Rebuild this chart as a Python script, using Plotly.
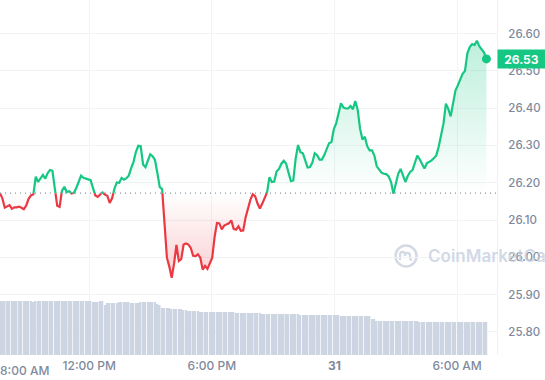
import numpy as np
import pandas as pd
import plotly.graph_objects as go

# ---------------- data ----------------
times = pd.date_range("2024-10-30 07:38", periods=205, freq="7min")

price = [
    26.172, 26.158, 26.133, 26.136, 26.140, 26.130, 26.134, 26.134, 26.136, 26.133,
    26.129, 26.139, 26.157, 26.166, 26.169, 26.216, 26.202, 26.211, 26.221, 26.211,
    26.226, 26.234, 26.232, 26.184, 26.138, 26.135, 26.179, 26.189, 26.175, 26.177,
    26.171, 26.173, 26.186, 26.202, 26.219, 26.213, 26.212, 26.209, 26.207, 26.183,
    26.166, 26.162, 26.170, 26.174, 26.168, 26.165, 26.146, 26.158, 26.184, 26.201,
    26.200, 26.213, 26.208, 26.212, 26.219, 26.239, 26.256, 26.283, 26.299, 26.298,
    26.249, 26.242, 26.258, 26.276, 26.271, 26.261, 26.226, 26.188, 26.183, 26.079,
    25.999, 25.975, 25.945, 25.983, 26.033, 25.990, 25.995, 26.034, 26.037, 26.034,
    26.025, 26.004, 26.003, 26.008, 25.999, 25.967, 25.977, 25.969, 25.987, 25.999,
    26.055, 26.092, 26.091, 26.075, 26.085, 26.088, 26.091, 26.099, 26.076, 26.074,
    26.083, 26.071, 26.072, 26.107, 26.132, 26.154, 26.169, 26.164, 26.144, 26.131,
    26.144, 26.159, 26.174, 26.215, 26.202, 26.203, 26.230, 26.237, 26.251, 26.259,
    26.251, 26.227, 26.204, 26.206, 26.265, 26.301, 26.282, 26.279, 26.258, 26.241,
    26.242, 26.254, 26.279, 26.274, 26.262, 26.262, 26.274, 26.292, 26.306, 26.309,
    26.344, 26.360, 26.388, 26.413, 26.402, 26.399, 26.399, 26.406, 26.397, 26.419,
    26.396, 26.345, 26.316, 26.323, 26.298, 26.287, 26.287, 26.273, 26.244, 26.236,
    26.227, 26.224, 26.223, 26.217, 26.202, 26.171, 26.200, 26.224, 26.237, 26.217,
    26.202, 26.218, 26.229, 26.234, 26.255, 26.273, 26.263, 26.249, 26.238, 26.252,
    26.255, 26.260, 26.266, 26.274, 26.297, 26.329, 26.359, 26.412, 26.398, 26.378,
    26.418, 26.447, 26.461, 26.478, 26.492, 26.500, 26.547, 26.564, 26.572, 26.569,
    26.581, 26.566, 26.558, 26.549, 26.532,
]

volume_m = [
    10.8, 10.8, 10.8, 10.8, 10.8, 10.8, 10.8, 10.8, 10.8, 10.8,
    10.8, 10.8, 10.8, 10.8, 10.6, 10.8, 10.8, 10.8, 10.8, 10.8,
    10.8, 10.8, 10.8, 10.8, 10.8, 10.8, 10.8, 10.8, 10.8, 10.8,
    10.8, 10.8, 10.8, 10.8, 10.8, 10.8, 10.8, 10.8, 10.8, 10.6,
    10.6, 10.6, 10.8, 10.8, 10.0, 10.4, 10.4, 10.4, 10.4, 10.4,
    10.6, 10.6, 10.6, 10.6, 10.6, 10.4, 10.4, 10.4, 10.4, 10.6,
    10.6, 10.6, 10.6, 10.6, 10.6, 10.6, 10.2, 10.0, 9.4, 9.4,
    9.4, 9.4, 9.2, 9.2, 9.2, 9.2, 9.2, 9.0, 9.0, 8.8,
    8.8, 8.8, 8.8, 8.8, 8.6, 8.6, 8.6, 8.6, 8.6, 8.6,
    8.6, 8.6, 8.6, 8.6, 8.6, 8.6, 8.6, 8.6, 8.6, 8.4,
    8.4, 8.4, 8.4, 8.4, 8.4, 8.4, 8.4, 8.4, 8.4, 8.4,
    8.2, 8.2, 8.2, 8.2, 8.2, 8.2, 8.2, 8.2, 8.2, 8.2,
    8.2, 8.2, 8.2, 8.2, 8.2, 8.2, 8.0, 8.0, 8.0, 8.0,
    8.0, 8.0, 8.0, 8.0, 8.0, 8.0, 8.0, 8.0, 8.0, 8.0,
    8.0, 8.0, 8.0, 7.8, 7.8, 7.8, 7.8, 7.8, 7.8, 7.8,
    7.8, 7.8, 7.8, 7.8, 7.8, 7.8, 7.2, 7.2, 6.8, 6.8,
    6.8, 6.8, 6.8, 6.8, 6.8, 6.8, 6.8, 6.8, 6.8, 6.8,
    6.8, 6.8, 6.8, 6.8, 6.8, 6.8, 6.6, 6.6, 6.6, 6.6,
    6.6, 6.6, 6.6, 6.6, 6.6, 6.6, 6.6, 6.6, 6.6, 6.6,
    6.6, 6.6, 6.6, 6.6, 6.6, 6.6, 6.6, 6.6, 6.6, 6.6,
    6.6, 6.6, 6.6, 6.6, 6.6,
]

x_tick_vals = ["2024-10-30 12:00", "2024-10-30 18:00", "2024-10-31 00:00", "2024-10-31 06:00"]
x_tick_text = ["12:00 PM", "6:00 PM", "<b>31</b>", "6:00 AM"]
first_tick_time = "2024-10-30 08:00"
first_tick_text = "8:00 AM"
y_tick_vals = [25.80, 25.90, 26.00, 26.10, 26.20, 26.30, 26.40, 26.50, 26.60]

# ---------------- styling ----------------
GREEN = "#16c784"
RED = "#ea3943"
LABEL = "#808a9d"
GRID = "#f2f3f5"
FONT = "Inter"

p = np.array(price, dtype=float)
base = p[0]

# split the line at the baseline (insert the crossing points)
tn = times.asi8.astype(float)
xs, ys = [], []
for i in range(len(p)):
    xs.append(tn[i]); ys.append(p[i])
    if i < len(p) - 1:
        a, b = p[i] - base, p[i + 1] - base
        if a * b < 0:
            f = a / (a - b)
            xs.append(tn[i] + f * (tn[i + 1] - tn[i])); ys.append(base)
xs = pd.to_datetime(np.array(xs).astype("int64"))
ys = np.array(ys)

up = np.maximum(ys, base)
down = np.minimum(ys, base)
green_line = np.where(ys >= base, ys, np.nan)
red_line = np.where(ys <= base, ys, np.nan)
base_arr = np.full(len(ys), base)

fig = go.Figure()

fig.add_trace(go.Bar(x=times, y=volume_m, yaxis="y2", marker=dict(color="#cdd5e3", line=dict(width=0)),
                     hoverinfo="skip", showlegend=False))

fig.add_trace(go.Scatter(x=xs, y=base_arr, mode="lines", line=dict(width=0, color="rgba(0,0,0,0)"),
                         hoverinfo="skip", showlegend=False))
fig.add_trace(go.Scatter(x=xs, y=up, mode="lines", line=dict(width=0, color="rgba(0,0,0,0)"),
                         fill="tonexty",
                         fillgradient=dict(type="vertical",
                                           colorscale=[[0, "rgba(22,199,132,0.0)"], [1, "rgba(22,199,132,0.28)"]],
                                           start=base, stop=float(p.max())),
                         hoverinfo="skip", showlegend=False))
fig.add_trace(go.Scatter(x=xs, y=base_arr, mode="lines", line=dict(width=0, color="rgba(0,0,0,0)"),
                         hoverinfo="skip", showlegend=False))
fig.add_trace(go.Scatter(x=xs, y=down, mode="lines", line=dict(width=0, color="rgba(0,0,0,0)"),
                         fill="tonexty",
                         fillgradient=dict(type="vertical",
                                           colorscale=[[0, "rgba(234,57,67,0.24)"], [1, "rgba(234,57,67,0.0)"]],
                                           start=float(p.min()), stop=base),
                         hoverinfo="skip", showlegend=False))

fig.add_trace(go.Scatter(x=xs, y=red_line, mode="lines", line=dict(color=RED, width=2.2),
                         connectgaps=False, hoverinfo="skip", showlegend=False))
fig.add_trace(go.Scatter(x=xs, y=green_line, mode="lines", line=dict(color=GREEN, width=2.2),
                         connectgaps=False, hoverinfo="skip", showlegend=False))
fig.add_trace(go.Scatter(x=[times[-1]], y=[price[-1]], mode="markers",
                         marker=dict(color=GREEN, size=9), hoverinfo="skip", showlegend=False))

# dotted baseline
fig.add_shape(type="line", xref="paper", x0=0, x1=1, yref="y", y0=base, y1=base,
              line=dict(color="#8f96a3", width=1.2, dash="1px,4px"), layer="above")

# watermark
wm_color = "rgba(196,205,222,0.75)"
wx, wy = 0.817, 0.279
fig.add_shape(type="circle", xref="paper", yref="paper", xsizemode="pixel", ysizemode="pixel",
              xanchor=wx, yanchor=wy, x0=-10.5, x1=10.5, y0=-10.5, y1=10.5,
              line=dict(color=wm_color, width=2.5), layer="below")
fig.add_shape(type="path", xref="paper", yref="paper", xsizemode="pixel", ysizemode="pixel",
              xanchor=wx, yanchor=wy,
              path="M -6,-4 L -6,1 Q -6,4 -3.5,4 Q -1,4 -1,1 L -1,0 Q -1,3 1.5,3 Q 4,3 4,0 L 4,-2 Q 4,-4 6,-4",
              line=dict(color=wm_color, width=2.2), layer="below")
fig.add_annotation(text="CoinMarketCap", xref="paper", yref="paper", x=0.858, y=wy,
                   xanchor="left", yanchor="middle", showarrow=False,
                   font=dict(family=FONT, size=17, color=wm_color, weight=600))

# first time label (kept inside the chart like the original)
fig.add_annotation(text=first_tick_text, xref="x", yref="paper", x=first_tick_time, y=0,
                   xanchor="center", yanchor="top", xshift=17, yshift=-6, showarrow=False,
                   font=dict(family=FONT, size=12, color=LABEL, weight=500))

# last price badge
fig.add_annotation(text=f"<b>{price[-1]:.2f}</b>", xref="paper", yref="y", x=1, y=price[-1],
                   xanchor="left", yanchor="middle", showarrow=False, bgcolor=GREEN,
                   width=47, height=18, borderpad=0,
                   font=dict(family=FONT, size=12, color="white"))

fig.update_layout(
    width=545, height=380,
    margin=dict(l=0, r=48, t=0, b=25),
    paper_bgcolor="white", plot_bgcolor="white",
    bargap=0.35,
    font=dict(family=FONT, color=LABEL),
    xaxis=dict(type="date", range=["2024-10-30 07:38", "2024-10-31 07:57"],
               tickvals=x_tick_vals, ticktext=x_tick_text, ticks="",
               showgrid=True, gridcolor=GRID, gridwidth=1, zeroline=False, showline=False,
               tickfont=dict(family=FONT, size=12, color=LABEL, weight=500), ticklabelstandoff=2),
    yaxis=dict(side="right", range=[25.738, 26.690], tickvals=y_tick_vals, tickformat=".2f",
               ticks="", showgrid=True, gridcolor=GRID, gridwidth=1, zeroline=False,
               showline=True, linecolor="#eef0f3", linewidth=1,
               tickfont=dict(family=FONT, size=11.5, color=LABEL, weight=500), ticklabelstandoff=8),
    yaxis2=dict(overlaying="y", range=[0, 71], visible=False, fixedrange=True),
    hovermode=False,
)

fig.write_html("out.html", config={"displayModeBar": False},
               post_script="document.body.style.margin='0';document.body.style.padding='0';")
